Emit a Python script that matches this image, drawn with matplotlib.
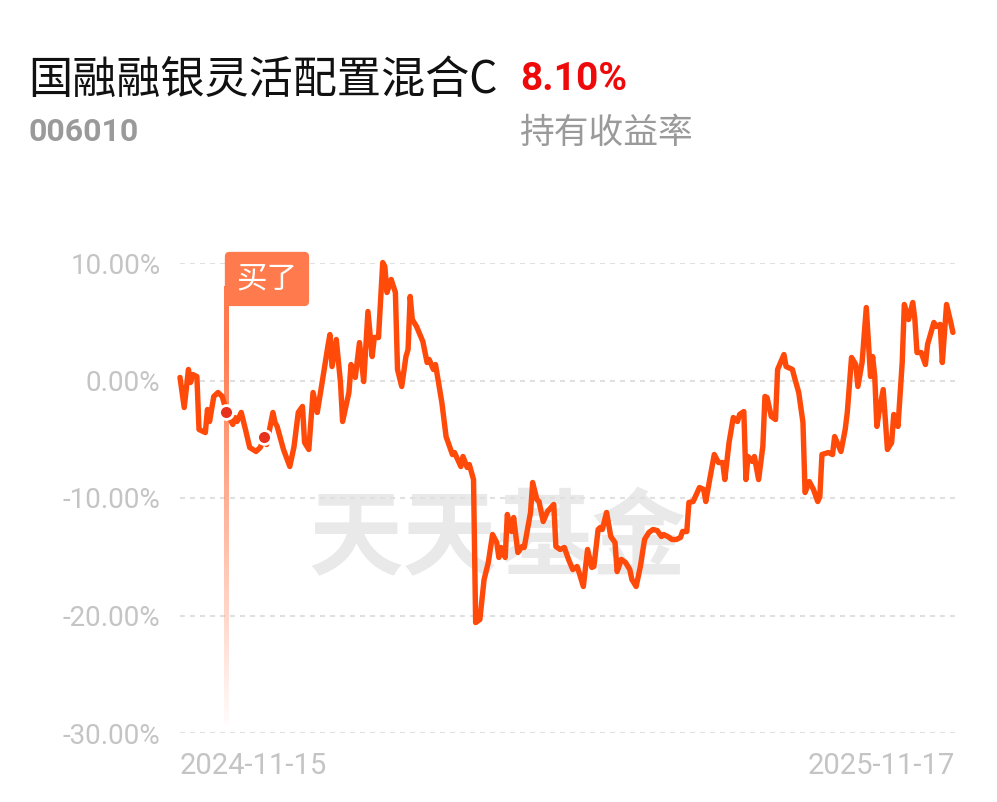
import matplotlib
matplotlib.use("Agg")
import matplotlib.pyplot as plt
import numpy as np
import pandas as pd

# ---------------- data ----------------
title = "国融融银灵活配置混合C"
fund_code = "006010"
holding_return = "8.10%"
holding_label = "持有收益率"
start_date = "2024-11-15"
end_date = "2025-11-17"

# days since start date
day_offsets = [
    0, 2, 4, 5, 6, 8, 9, 12, 13, 14, 16, 18, 20, 22, 25, 26, 27, 29, 31, 33,
    36, 38, 40, 41, 44, 45, 46, 49, 52, 54, 56, 58, 59, 61, 63, 65, 67, 70, 71, 72,
    74, 76, 77, 80, 81, 83, 85, 87, 88, 89, 91, 92, 94, 96, 97, 98, 100, 102, 103, 105,
    107, 108, 109, 110, 112, 115, 117, 118, 120, 121, 124, 126, 129, 130, 133, 134, 136, 137, 139, 140,
    142, 144, 146, 148, 150, 151, 152, 154, 155, 157, 158, 160, 162, 163, 166, 167, 169, 170, 172, 174,
    177, 178, 180, 182, 184, 186, 188, 189, 191, 193, 195, 196, 198, 199, 200, 202, 204, 206, 207, 209,
    211, 213, 214, 216, 218, 220, 222, 224, 226, 228, 229, 231, 233, 235, 237, 238, 240, 241, 243, 246,
    248, 249, 251, 253, 255, 257, 258, 260, 262, 264, 265, 267, 268, 269, 271, 272, 274, 276, 277, 278,
    280, 282, 283, 285, 286, 287, 290, 291, 293, 295, 296, 298, 300, 302, 303, 304, 307, 309, 310, 312,
    313, 315, 316, 318, 320, 321, 323, 325, 327, 328, 329, 330, 331, 333, 334, 335, 337, 338, 340, 342,
    343, 345, 347, 348, 349, 351, 353, 354, 357, 358, 360, 361, 363, 365, 366,
]
# holding return, %
return_pct = [
    0.26, -2.30, 0.94, -0.17, 0.51, 0.34, -4.17, -4.43, -2.47, -3.49, -1.36, -1.02, -1.36, -2.64, -3.74, -3.15, -3.49, -2.72, -4.17, -5.70,
    -6.04, -5.70, -4.77, -5.45, -2.72, -3.57, -3.91, -5.87, -7.32, -5.62, -2.72, -2.21, -5.28, -5.87, -1.02, -2.72, -0.51, 2.89, 3.91, 1.19,
    3.49, -0.17, -3.49, -1.02, 1.36, 0.26, 3.23, -0.09, 2.89, 5.87, 2.04, 3.66, 3.66, 10.04, 9.70, 7.49, 8.60, 7.49, 0.94, -0.51,
    2.04, 2.64, 7.15, 5.19, 4.60, 3.32, 1.53, 1.79, 0.94, 1.36, -1.87, -4.77, -6.30, -6.13, -7.32, -6.47, -7.40, -7.15, -8.43, -20.60,
    -20.34, -16.94, -15.49, -13.11, -13.79, -15.06, -14.21, -15.06, -11.40, -12.85, -11.66, -14.64, -14.13, -14.21, -11.23, -8.68, -10.13, -10.30, -12.00, -11.15,
    -10.55, -14.13, -14.38, -14.21, -15.23, -16.09, -15.83, -16.34, -17.53, -14.38, -15.91, -15.83, -12.68, -12.51, -12.68, -11.23, -13.28, -13.79, -16.26, -15.23,
    -15.49, -16.09, -16.94, -17.53, -15.83, -13.53, -12.94, -12.68, -12.77, -13.28, -13.11, -13.28, -13.53, -13.53, -13.36, -12.85, -12.85, -10.38, -10.30, -9.11,
    -9.28, -10.30, -8.26, -6.30, -6.98, -6.98, -8.43, -5.28, -3.15, -3.49, -2.89, -2.64, -8.43, -6.47, -6.89, -6.47, -8.43, -5.62, -1.36, -1.45,
    -3.06, -3.32, 0.94, 1.79, 2.21, 1.19, 0.94, 0.26, -1.02, -3.57, -9.53, -8.60, -9.28, -10.30, -9.87, -6.30, -6.13, -6.30, -4.77, -5.62,
    -6.04, -4.17, -2.72, 1.96, 1.36, -0.51, 1.53, 6.21, 0.34, 2.04, 0.34, -3.91, -2.72, -0.77, -3.32, -5.87, -5.28, -2.89, -3.91, 1.53,
    6.47, 5.19, 6.64, 5.19, 2.38, 2.38, 1.36, 3.06, 4.94, 4.60, 4.77, 1.53, 6.47, 4.94, 4.09,
]
buy_day = 22
trade_days = [22, 40]
buy_label = "买了"

y_ticks = [10, 0, -10, -20, -30]
y_tick_labels = ["10.00%", "0.00%", "-10.00%", "-20.00%", "-30.00%"]
total_days = 367
watermark = "天天基金"

# ---------------- style ----------------
LINE = "#FF4A0A"
GRID = "#e0e0e0"
TICK = "#c4c4c4"
CJK = ["Noto Sans CJK SC", "DejaVu Sans"]
NUM = ["Roboto", "DejaVu Sans"]

W, H = 997, 802
fig = plt.figure(figsize=(W / 100, H / 100), dpi=100)
fig.patch.set_facecolor("white")

# header texts
fig.text(28 / W, 1 - 80 / H, title, family=CJK, fontsize=31.8, color="#111111",
         ha="left", va="center")
fig.text(520 / W, 1 - 80 / H, holding_return, family=NUM, fontsize=28,
         fontweight="bold", color="#EE0A0A", ha="left", va="center")
fig.text(28 / W, 1 - 132 / H, fund_code, family=NUM, fontsize=23,
         fontweight="bold", color="#9a9a9a", ha="left", va="center")
fig.text(520 / W, 1 - 133 / H, holding_label, family=CJK, fontsize=25,
         color="#9a9a9a", ha="left", va="center")

ax = fig.add_axes([180 / W, (H - 733) / H, 775 / W, 470 / H])
ax.set_facecolor("none")
for s in ax.spines.values():
    s.set_visible(False)

# watermark
ax.text(0.41, 0.41, watermark, transform=ax.transAxes, family=CJK, fontsize=68,
        fontweight="bold", color="#e9e9e9", ha="center", va="center", zorder=0)

# grid
ax.set_yticks(y_ticks)
ax.set_yticklabels(y_tick_labels, family=NUM, fontsize=20, color=TICK)
ax.yaxis.grid(True, linestyle=(0, (2.4, 2.4)), color=GRID, linewidth=1.5, zorder=1)
ax.set_axisbelow(True)

ax.set_xticks([0, total_days])
ax.set_xticklabels([start_date, end_date], family=NUM, fontsize=21, color=TICK)
xl = ax.get_xticklabels()
xl[0].set_ha("left")
xl[1].set_ha("right")
ax.tick_params(axis="both", length=0)
ax.tick_params(axis="y", pad=14)
ax.tick_params(axis="x", pad=14)

# buy line with fading gradient
line_top, line_bottom = 8.0, -29.3
grad = np.ones((256, 1, 4))
rgb = matplotlib.colors.to_rgb("#FF7A4D")
grad[..., 0], grad[..., 1], grad[..., 2] = rgb
alpha = np.clip(np.linspace(1.15, 0.02, 256), 0, 1)
grad[:, 0, 3] = alpha
ax.imshow(grad, extent=[buy_day - 0.95, buy_day + 0.95, line_bottom, line_top],
          aspect="auto", origin="upper", zorder=2, interpolation="bilinear")

# main line
ax.plot(day_offsets, return_pct, color=LINE, lw=3.9, solid_joinstyle="round",
        solid_capstyle="round", zorder=3, clip_on=False)

# trade markers
lookup = dict(zip(day_offsets, return_pct))
ax.plot(trade_days, [lookup[d] for d in trade_days], "o", ms=10, mfc="#E8321E",
        mec="white", mew=2, zorder=5, clip_on=False)

# buy label
ax.annotate(buy_label, xy=(buy_day, 6.4), xycoords="data", xytext=(7.2, 7.8),
            textcoords="offset points", ha="left", va="bottom", family=CJK,
            fontsize=22, color="white", zorder=6, annotation_clip=False,
            bbox=dict(boxstyle="round,pad=0.38,rounding_size=0.15", fc="#FF7A4D",
                      ec="none"))

ax.set_xlim(0, total_days)
ax.set_ylim(-30, 10)

fig.savefig("out.png", dpi=100, facecolor="white")
